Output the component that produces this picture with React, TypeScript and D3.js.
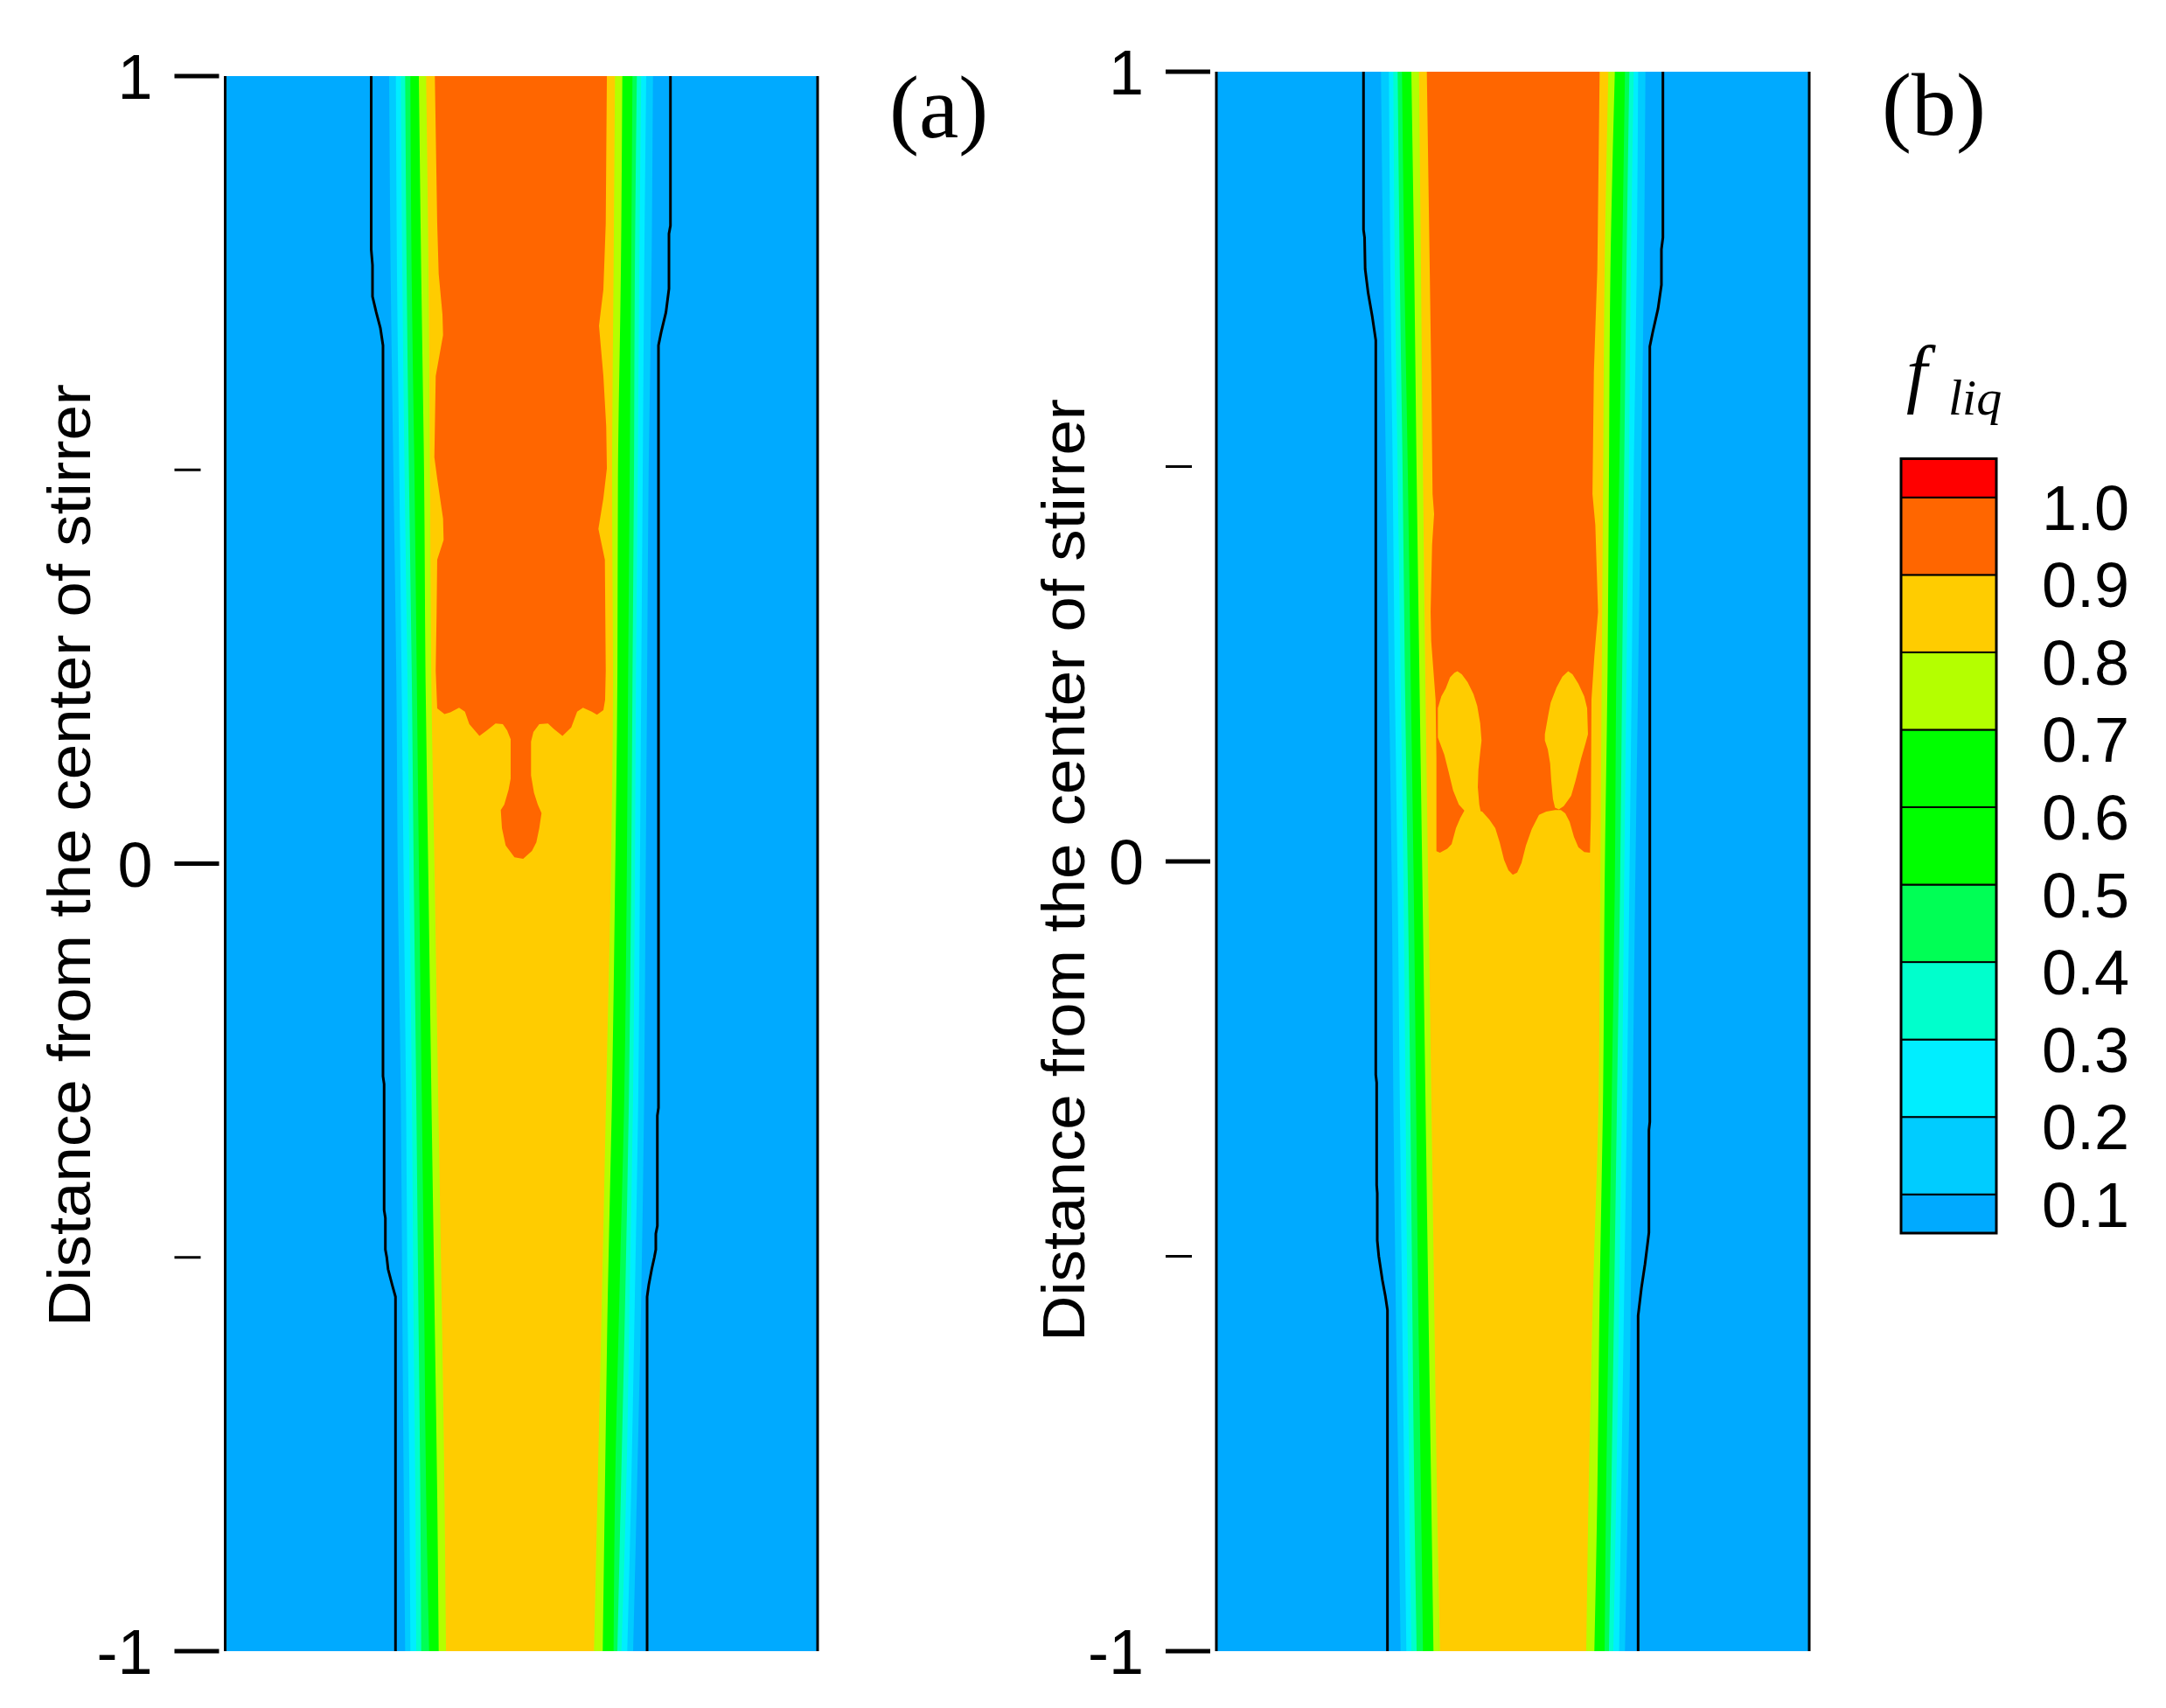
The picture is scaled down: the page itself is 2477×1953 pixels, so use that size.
import React from "react";
import * as d3 from "d3";

const W = 2477;
const H = 1953;

// ---------- contour levels and colours ----------
const levels = [0.1, 0.2, 0.3, 0.4, 0.5, 0.7, 0.8];
const levelColors = ["#00CCFF", "#00EEFF", "#00FFCC", "#00FF55", "#00FF00", "#B4FF00", "#FFCC00"];
const solidColor = "#00AAFF";
const liquidColor = "#FF6600";
const mushyColor = "#FFCC00";

// colour bar bands (value range lower..upper) and labels
const colorbarStops = [0.05, 0.1, 0.2, 0.3, 0.4, 0.5, 0.6, 0.7, 0.8, 0.9, 1.0, 1.05];
const colorbarColors = ["#00AAFF", "#00CCFF", "#00EEFF", "#00FFCC", "#00FF55", "#00FF00", "#00FF00", "#B4FF00", "#FFCC00", "#FF6600", "#FF0000"];
const colorbarTicks = [1.0, 0.9, 0.8, 0.7, 0.6, 0.5, 0.4, 0.3, 0.2, 0.1];

// axis ticks
const yMajorTicks = [1, 0, -1];
const yMinorTicks = [0.5, -0.5];
const yTitle = "Distance from the center of stirrer";

// sample heights (distance from stirrer centre) at which band edges were read
const sampleY = [1.0, 0.75, 0.49, 0.23, -0.03, -0.29, -0.55, -0.8, -1.0];

// x positions are in % of the panel width; columns follow `levels`
const aLeftEdges = [
  [27.68, 28.81, 29.64, 30.38, 31.26, 32.69, 33.92],
  [27.93, 29.0, 29.89, 30.63, 31.47, 33.09, 34.32],
  [28.41, 29.4, 30.29, 31.03, 31.96, 33.58, 34.57],
  [28.9, 29.79, 30.77, 31.51, 32.35, 33.83, 34.8],
  [29.15, 30.14, 31.11, 31.85, 32.74, 34.32, 35.39],
  [29.64, 30.52, 31.51, 32.25, 33.18, 34.8, 35.94],
  [29.89, 30.77, 31.76, 32.59, 33.58, 35.31, 36.53],
  [30.14, 31.11, 32.1, 32.94, 33.92, 35.79, 37.02],
  [30.38, 31.26, 32.25, 33.09, 34.42, 36.04, 37.27],
];
const aRightEdges = [
  [72.21, 71.07, 70.23, 69.49, 68.75, 67.04, 65.8],
  [71.96, 70.73, 69.89, 69.15, 68.52, 66.79, 65.56],
  [71.47, 70.48, 69.64, 69.0, 68.27, 66.3, 65.31],
  [71.22, 70.23, 69.34, 68.75, 68.01, 66.2, 65.46],
  [70.97, 69.99, 69.15, 68.52, 67.78, 65.8, 65.06],
  [70.73, 69.74, 68.86, 68.16, 67.38, 65.31, 64.32],
  [70.23, 69.15, 68.27, 67.53, 66.54, 64.58, 63.59],
  [69.49, 68.52, 67.68, 66.79, 65.8, 64.09, 62.85],
  [68.86, 67.87, 66.89, 66.2, 65.56, 63.73, 62.26],
];
const bLeftEdges = [
  [27.77, 29.1, 29.84, 30.58, 31.31, 32.89, 34.17],
  [28.13, 29.35, 30.09, 30.93, 31.71, 33.38, 34.51],
  [28.61, 29.75, 30.58, 31.42, 32.3, 33.78, 34.85],
  [29.1, 30.09, 31.08, 31.81, 32.79, 34.26, 35.25],
  [29.6, 30.58, 31.56, 32.3, 33.29, 34.76, 35.74],
  [29.84, 30.93, 31.9, 32.7, 33.67, 35.25, 36.24],
  [30.24, 31.31, 32.2, 33.04, 34.03, 35.74, 36.73],
  [30.72, 31.71, 32.55, 33.38, 34.51, 36.24, 37.21],
  [31.08, 32.05, 32.89, 33.78, 34.85, 36.62, 37.71],
];
const bRightEdges = [
  [72.37, 71.14, 70.4, 69.66, 68.92, 67.21, 66.12],
  [72.12, 70.9, 69.91, 69.17, 68.44, 66.47, 65.49],
  [71.64, 70.4, 69.57, 68.78, 67.95, 66.22, 65.24],
  [71.14, 70.06, 69.17, 68.44, 67.45, 65.97, 65.0],
  [70.65, 69.66, 68.78, 68.1, 67.21, 65.49, 64.75],
  [70.25, 69.28, 68.44, 67.6, 66.71, 65.24, 64.5],
  [69.91, 68.78, 67.95, 67.11, 66.22, 64.65, 63.52],
  [69.42, 68.29, 67.45, 66.62, 65.74, 64.26, 62.79],
  [68.92, 67.94, 66.96, 66.22, 65.49, 63.76, 62.39],
];

// f_liq > 0.9 region, panel (a): [x %, y]
const aLiquidCore: [number, number][] = [
  [35.39, 1.0], [35.79, 0.813], [36.04, 0.749], [36.68, 0.697], [36.78, 0.671], [35.54, 0.619],
  [35.31, 0.516], [35.79, 0.489], [36.78, 0.438], [36.87, 0.411], [35.79, 0.386], [35.69, 0.319],
  [35.54, 0.245], [35.79, 0.197], [37.02, 0.19], [38.01, 0.192], [39.48, 0.198], [40.47, 0.193],
  [41.21, 0.177], [42.92, 0.162], [44.16, 0.169], [45.64, 0.178], [46.86, 0.177], [47.6, 0.169],
  [48.19, 0.158], [48.19, 0.108], [47.85, 0.094], [47.11, 0.075], [46.52, 0.068], [46.72, 0.045],
  [47.35, 0.023], [48.83, 0.008], [50.3, 0.006], [51.78, 0.016], [52.52, 0.027], [53.02, 0.045],
  [53.4, 0.064], [52.77, 0.075], [52.13, 0.09], [51.63, 0.112], [51.63, 0.155], [52.03, 0.167],
  [53.02, 0.177], [54.49, 0.178], [55.47, 0.171], [56.94, 0.162], [58.42, 0.173], [59.41, 0.193],
  [60.4, 0.198], [61.87, 0.193], [62.76, 0.189], [63.84, 0.195], [64.13, 0.208], [64.24, 0.245],
  [64.09, 0.386], [63.0, 0.425], [63.84, 0.464], [64.43, 0.502], [64.32, 0.555], [63.84, 0.619],
  [63.1, 0.683], [63.84, 0.729], [64.24, 0.813], [64.43, 1.0],
];

// f_liq > 0.9 region, panel (b)
const bLiquidCore: [number, number][] = [
  [35.5, 1.0], [35.99, 0.75], [36.24, 0.62], [36.47, 0.465], [36.73, 0.44], [36.39, 0.401],
  [36.14, 0.316], [36.24, 0.279], [36.98, 0.205], [37.12, 0.131], [37.12, 0.013], [37.71, 0.011],
  [38.94, 0.016], [39.68, 0.022], [40.41, 0.042], [41.15, 0.055], [41.89, 0.065], [43.36, 0.065],
  [44.84, 0.063], [46.06, 0.053], [47.05, 0.042], [47.79, 0.024], [48.53, 0.002], [49.26, -0.011],
  [50.0, -0.017], [50.74, -0.014], [51.47, -0.002], [52.21, 0.02], [53.2, 0.041], [54.42, 0.059],
  [55.65, 0.063], [57.12, 0.065], [58.11, 0.065], [58.85, 0.061], [59.59, 0.05], [60.32, 0.031],
  [61.06, 0.018], [62.05, 0.012], [63.02, 0.011], [63.17, 0.057], [63.27, 0.205], [63.76, 0.26],
  [64.38, 0.316], [63.92, 0.426], [63.44, 0.465], [63.68, 0.62], [64.26, 0.75], [64.65, 1.0],
];

// mushy (0.8-0.9) islands inside the liquid core of panel (b)
const bLobeLeft: [number, number][] = [
  [40.66, 0.241], [41.4, 0.237], [42.38, 0.227], [43.36, 0.212], [44.0, 0.197], [44.5, 0.175],
  [44.73, 0.153], [44.5, 0.138], [44.2, 0.116], [44.1, 0.094], [44.35, 0.072], [44.59, 0.063],
  [41.89, 0.064], [40.9, 0.072], [39.93, 0.09], [39.19, 0.113], [38.45, 0.135], [37.71, 0.15],
  [37.36, 0.157], [37.36, 0.194], [37.95, 0.209], [38.69, 0.219], [39.42, 0.233], [40.16, 0.239],
];
const bLobeRight: [number, number][] = [
  [59.34, 0.241], [60.07, 0.237], [61.06, 0.225], [62.05, 0.209], [62.54, 0.194], [62.68, 0.161],
  [62.29, 0.15], [61.55, 0.131], [60.57, 0.102], [59.84, 0.083], [58.6, 0.07], [57.77, 0.066],
  [57.12, 0.068], [56.78, 0.079], [56.49, 0.102], [56.3, 0.124], [55.9, 0.142], [55.41, 0.153],
  [55.41, 0.161], [56.0, 0.186], [56.39, 0.201], [57.37, 0.22], [58.36, 0.234],
];

// black contour lines
const aContourLeft: [number, number][] = [
  [24.65, 1.0], [24.65, 0.78], [24.87, 0.76], [24.87, 0.72], [25.5, 0.7], [26.2, 0.68], [26.64, 0.658],
  [26.64, -0.27], [26.83, -0.28], [26.83, -0.44], [27.04, -0.45], [27.04, -0.49], [27.28, -0.5],
  [27.5, -0.515], [28.2, -0.535], [28.75, -0.55], [28.75, -1.0],
];
const aContourRight: [number, number][] = [
  [75.16, 1.0], [75.16, 0.81], [74.91, 0.8], [74.91, 0.73], [74.4, 0.7], [73.6, 0.675], [73.14, 0.658],
  [73.14, -0.31], [72.95, -0.32], [72.95, -0.46], [72.69, -0.47], [72.69, -0.49], [72.44, -0.5],
  [72.0, -0.515], [71.5, -0.535], [71.22, -0.55], [71.22, -1.0],
];
const bContourLeft: [number, number][] = [
  [24.82, 1.0], [24.82, 0.8], [25.0, 0.79], [25.1, 0.75], [25.6, 0.72], [26.3, 0.69], [26.89, 0.66],
  [26.89, -0.27], [27.04, -0.28], [27.04, -0.41], [27.14, -0.42], [27.14, -0.48], [27.4, -0.5],
  [28.0, -0.53], [28.5, -0.55], [28.86, -0.568], [28.86, -1.0],
];
const bContourRight: [number, number][] = [
  [75.32, 1.0], [75.32, 0.79], [75.07, 0.775], [75.07, 0.73], [74.5, 0.7], [73.6, 0.67], [73.11, 0.652],
  [73.11, -0.33], [72.96, -0.34], [72.96, -0.47], [72.8, -0.48], [72.3, -0.51], [71.7, -0.54],
  [71.14, -0.575], [71.14, -1.0],
];

const SANS = "'Liberation Sans', Arial, Helvetica, sans-serif";
const SERIF = "'Liberation Serif', 'Times New Roman', serif";

type PanelProps = {
  id: string;
  x0: number;
  x1: number;
  yTop: number;
  yBottom: number;
  left: number[][];
  right: number[][];
  core: [number, number][];
  lobes: [number, number][][];
  contours: [number, number][][];
  tagText: string;
  tagX: number;
  tagY: number;
  titleX: number;
  titleY: number;
};

function Panel(p: PanelProps) {
  const x = d3.scaleLinear().domain([0, 100]).range([p.x0, p.x1]);
  const y = d3.scaleLinear().domain([-1, 1]).range([p.yBottom, p.yTop]);
  const poly = d3
    .line<[number, number]>()
    .x((d) => x(d[0]))
    .y((d) => y(d[1]))
    .curve(d3.curveLinearClosed);
  const open = d3
    .line<[number, number]>()
    .x((d) => x(d[0]))
    .y((d) => y(d[1]))
    .curve(d3.curveLinear);
  const band = (k: number) =>
    d3
      .area<number>()
      .y((v) => y(v))
      .x0((_, i) => x(p.left[i][k]))
      .x1((_, i) => x(p.right[i][k]))
      .curve(d3.curveMonotoneY)(sampleY) as string;

  const tickX1 = p.x0 - 58;
  const tickX2 = p.x0 - 7;
  return (
    <g>
      <defs>
        <clipPath id={`clip-${p.id}`}>
          <rect x={p.x0} y={p.yTop} width={p.x1 - p.x0} height={p.yBottom - p.yTop} />
        </clipPath>
      </defs>
      <g clipPath={`url(#clip-${p.id})`}>
        <rect x={p.x0} y={p.yTop} width={p.x1 - p.x0} height={p.yBottom - p.yTop} fill={solidColor} />
        {levels.map((lv, k) => (
          <path key={lv} d={band(k)} fill={levelColors[k]} />
        ))}
        <path d={poly(p.core) as string} fill={liquidColor} />
        {p.lobes.map((lobe, i) => (
          <path key={i} d={poly(lobe) as string} fill={mushyColor} />
        ))}
        {p.contours.map((c, i) => (
          <path key={i} d={open(c) as string} fill="none" stroke="#000" strokeWidth={3} />
        ))}
      </g>
      <line x1={p.x0} x2={p.x0} y1={p.yTop} y2={p.yBottom} stroke="#000" strokeWidth={3} />
      <line x1={p.x1} x2={p.x1} y1={p.yTop} y2={p.yBottom} stroke="#000" strokeWidth={3} />
      {yMajorTicks.map((t) => (
        <g key={t}>
          <line x1={tickX1} x2={tickX2} y1={y(t)} y2={y(t)} stroke="#000" strokeWidth={5} />
          <text
            x={tickX1 - 25}
            y={y(t) + 26}
            textAnchor="end"
            fontFamily={SANS}
            fontSize={72}
            fill="#000"
          >
            {t}
          </text>
        </g>
      ))}
      {yMinorTicks.map((t) => (
        <line key={t} x1={tickX1} x2={tickX1 + 30} y1={y(t)} y2={y(t)} stroke="#000" strokeWidth={3} />
      ))}
      <text
        transform={`translate(${p.titleX},${p.titleY}) rotate(-90)`}
        textAnchor="middle"
        fontFamily={SANS}
        fontSize={68}
        textLength={1078}
        lengthAdjust="spacingAndGlyphs"
        fill="#000"
      >
        {yTitle}
      </text>
      <text x={p.tagX} y={p.tagY} fontFamily={SERIF} fontSize={102} fill="#000">
        {p.tagText}
      </text>
    </g>
  );
}

function ColorBar() {
  const cb = d3.scaleLinear().domain([0.05, 1.05]).range([1410, 524.5]);
  const bx = 2174;
  const bw = 109;
  return (
    <g>
      {colorbarColors.map((c, i) => (
        <rect
          key={i}
          x={bx}
          y={cb(colorbarStops[i + 1])}
          width={bw}
          height={cb(colorbarStops[i]) - cb(colorbarStops[i + 1])}
          fill={c}
          stroke="#000"
          strokeWidth={2}
        />
      ))}
      <rect x={bx} y={cb(1.05)} width={bw} height={cb(0.05) - cb(1.05)} fill="none" stroke="#000" strokeWidth={3} />
      {colorbarTicks.map((t) => (
        <text key={t} x={2335} y={cb(t) + 37} fontFamily={SANS} fontSize={72} fill="#000">
          {t.toFixed(1)}
        </text>
      ))}
      <text x={2180} y={455} fontFamily={SERIF} fontStyle="italic" fontSize={86} fill="#000">
        f
      </text>
      <text x={2228} y={474} fontFamily={SERIF} fontStyle="italic" fontSize={58} fill="#000">
        liq
      </text>
    </g>
  );
}

export default function App() {
  return (
    <svg
      width={W}
      height={H}
      viewBox={`0 0 ${W} ${H}`}
      style={{ position: "absolute", left: 0, top: 0, background: "#fff" }}
    >
      <rect x={0} y={0} width={W} height={H} fill="#fff" />
      <Panel
        id="a"
        x0={257.5}
        x1={935}
        yTop={87}
        yBottom={1888}
        left={aLeftEdges}
        right={aRightEdges}
        core={aLiquidCore}
        lobes={[]}
        contours={[aContourLeft, aContourRight]}
        tagText="(a)"
        tagX={1017}
        tagY={157}
        titleX={103}
        titleY={978}
      />
      <Panel
        id="b"
        x0={1391}
        x1={2069}
        yTop={82}
        yBottom={1888}
        left={bLeftEdges}
        right={bRightEdges}
        core={bLiquidCore}
        lobes={[bLobeLeft, bLobeRight]}
        contours={[bContourLeft, bContourRight]}
        tagText="(b)"
        tagX={2152}
        tagY={154}
        titleX={1240}
        titleY={995}
      />
      <ColorBar />
    </svg>
  );
}
